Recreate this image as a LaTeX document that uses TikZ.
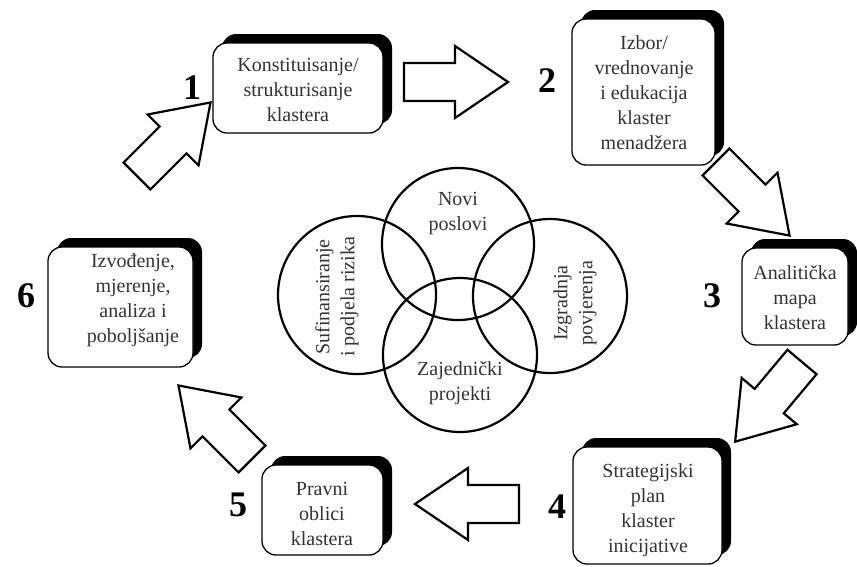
\documentclass[tikz,border=0pt]{standalone}
\usepackage{fontspec}
\setmainfont{Liberation Serif}
\usetikzlibrary{shadows}
\definecolor{txtgray}{HTML}{333333}
\newcommand\blockarr[3]{\draw[blockarrow, shift={(#1,#2)}, rotate=#3] (0pt,-19pt) -- (51pt,-19pt) -- (51pt,-36pt) -- (104pt,0pt) -- (51pt,36pt) -- (51pt,19pt) -- (0pt,19pt) -- cycle;}
\begin{document}
\begin{tikzpicture}[x=1pt,y=-1pt,
 box/.style={draw=black, line width=1.3pt, fill=white, rounded corners=14pt, inner sep=0pt,
   drop shadow={shadow xshift=9pt, shadow yshift=9pt, fill=black, opacity=1}},
 txt/.style={font=\fontsize{20}{25}\selectfont, text=txtgray, align=center, inner sep=0pt},
 num/.style={font=\fontsize{36}{40}\selectfont\bfseries, inner sep=0pt},
 ring/.style={circle, draw=black, line width=2.2pt, inner sep=0pt},
 blockarrow/.style={draw=black, line width=2.2pt, fill=white, line join=miter}]
\useasboundingbox[fill=white] (0,0) rectangle (857,566);

% circles
\node[ring, minimum size=152pt] (c1) at (458,244) {};
\node[ring, minimum size=158pt] (c2) at (357,295) {};
\node[ring, minimum size=154pt] (c3) at (550,296) {};
\node[ring, minimum size=154pt] (c4) at (460,355) {};
\node[txt] (ct1) at (458,214) {Novi\\poslovi};
\node[txt] (ct4) at (460,383) {Zajednički\\projekti};
\node[txt, rotate=90] (ct2) at (337,297) {Sufinansiranje\\i podjela rizika};
\node[txt, rotate=90] (ct3) at (575,303) {Izgradnja\\povjerenja};

% block arrows
\blockarr{404}{82}{0}
\blockarr{716}{162}{-45}
\blockarr{802}{362}{-130}
\blockarr{519}{504}{180}
\blockarr{252}{459}{135}
\blockarr{137}{176}{45}

% boxes
\node[box, minimum width=170pt, minimum height=90pt] (b1) at (298,88) {};
\node[box, minimum width=143pt, minimum height=146pt] (b2) at (643.5,92) {};
\node[box, minimum width=106pt, minimum height=97pt] (b3) at (795,296.5) {};
\node[box, minimum width=149pt, minimum height=117pt] (b4) at (647.5,505.5) {};
\node[box, minimum width=121pt, minimum height=90pt] (b5) at (322.5,510) {};
\node[box, minimum width=145pt, minimum height=120pt] (b6) at (120.5,307) {};

\node[txt] (t1) at (298,90) {Konstituisanje/\\strukturisanje\\klastera};
\node[txt] (t2) at (644,93) {Izbor/\\vrednovanje\\i edukacija\\klaster\\menadžera};
\node[txt] (t3) at (795,298) {Analitička\\mapa\\klastera};
\node[txt] (t4) at (648,510) {Strategijski\\plan\\klaster\\inicijative};
\node[txt] (t5) at (322,514) {Pravni\\oblici\\klastera};
\node[txt] (t6) at (133,300) {Izvođenje,\\mjerenje,\\analiza i\\poboljšanje};

% numbers
\node[num] (n1) at (192,88) {1};
\node[num] (n2) at (547,81) {2};
\node[num] (n3) at (712,296) {3};
\node[num] (n4) at (557,507) {4};
\node[num] (n5) at (238,505) {5};
\node[num] (n6) at (26,296) {6};
\end{tikzpicture}
\end{document}
